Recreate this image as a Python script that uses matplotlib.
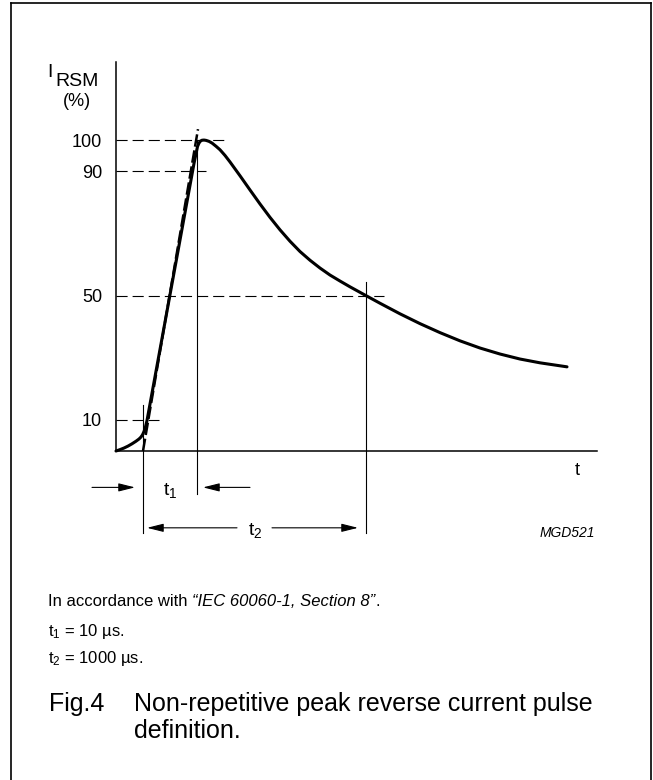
import matplotlib
matplotlib.use("Agg")
import matplotlib.pyplot as plt
from matplotlib.lines import Line2D

plt.rcParams['font.family'] = ['Liberation Sans', 'DejaVu Sans']
plt.rcParams['mathtext.fontset'] = 'custom'
plt.rcParams['mathtext.rm'] = 'Liberation Sans'
plt.rcParams['mathtext.it'] = 'Liberation Sans:italic'

# pulse shape (time in arbitrary units, current in %)
pulse_t = [0, 4, 8, 12, 16, 20, 23, 25, 26.5, 28,
           29.5, 31, 39, 47, 54, 61, 68, 74, 78, 81.5,
           83, 84.5, 86, 88, 90, 93, 96, 100, 104, 109,
           114, 124, 134, 144, 154, 164, 174, 184, 194, 204,
           214, 224, 234, 244, 250, 264, 284, 304, 324, 344,
           364, 384, 404, 424, 451]
pulse_i = [0, 0.45, 0.96, 1.58, 2.32, 3.15, 3.86, 4.50, 5.21, 6.27,
           7.78, 9.81, 23.89, 37.94, 50.26, 62.57, 74.89, 85.43, 92.48, 97.91,
           99.04, 99.68, 99.94, 100.0, 99.90, 99.58, 99.04, 98.01, 96.88, 95.05,
           92.96, 88.52, 83.95, 79.45, 75.14, 71.13, 67.46, 64.15, 61.35, 58.84,
           56.59, 54.66, 52.80, 51.03, 49.97, 47.52, 44.12, 40.96, 38.07, 35.43,
           33.12, 31.19, 29.58, 28.36, 27.07]

# front tangent (virtual origin -> just above the peak)
tangent_t = [27, 82]
tangent_i = [0.0, 103.5]

# dashed reference levels and how far they run
levels = [100, 90, 50, 10]
level_ends = [109, 90, 268, 43]
tick_labels = ['100', '90', '50', '10']

# vertical markers: time, top, bottom
t_origin = 27
t_front = 81
t_half = 250
marks = [(t_origin, 14.8, -26.4), (t_front, 100, -13.8), (t_half, 54.3, -26.4)]

# dimension arrows: (tail, tip) pairs
arrows = [((-24, -11.7), (19, -11.7)),
          ((134, -11.7), (87, -11.7)),
          ((121, -24.7), (31, -24.7)),
          ((156, -24.7), (242, -24.7))]

W, H = 653, 780
fig = plt.figure(figsize=(W / 100, H / 100), dpi=100)

def px(x, y):
    return x / W, 1 - y / H

ax = fig.add_axes([116 / W, 1 - 544.3 / H, 481 / W, (544.3 - 62) / H])
ax.set_xlim(0, 481)
ax.set_ylim(-30, 125.1)
ax.patch.set_alpha(0)

for s in ['top', 'right']:
    ax.spines[s].set_visible(False)
ax.spines['left'].set_bounds(0, 125.1)
ax.spines['bottom'].set_position(('data', 0))
ax.spines['bottom'].set_bounds(0, 481)
for s in ['left', 'bottom']:
    ax.spines[s].set_linewidth(1.1)
ax.set_xticks([])
ax.set_yticks(levels)
ax.set_yticklabels(tick_labels)
ax.tick_params(axis='y', length=0, pad=10, labelsize=13)

# dashed levels
for lv, end in zip(levels, level_ends):
    ln, = ax.plot([0, end], [lv, lv], color='black', lw=0.8, clip_on=False)
    ln.set_dashes([10, 4.5])

# verticals
for tm, top, bot in marks:
    ax.plot([tm, tm], [bot, top], color='black', lw=0.8, clip_on=False)

# the pulse
ax.plot(pulse_t, pulse_i, color='black', lw=2.2, solid_joinstyle='round',
        solid_capstyle='round', clip_on=False)
tl, = ax.plot(tangent_t, tangent_i, color='black', lw=1.8, clip_on=False)
tl.set_dashes([5, 1.5])

aprops = dict(arrowstyle='-|>,head_length=1.0,head_width=0.25', color='black',
              lw=0.8, mutation_scale=10, shrinkA=0, shrinkB=0)
for tail, tip in arrows:
    ax.annotate('', xy=tip, xytext=tail, arrowprops=aprops, annotation_clip=False)

ax.text(47, -14.1, r'$\mathrm{t}_{1}$', fontsize=14, ha='left', va='baseline')
ax.text(132, -27.0, r'$\mathrm{t}_{2}$', fontsize=14, ha='left', va='baseline')
ax.text(459, -7.7, 't', fontsize=13, ha='left', va='baseline')
ax.text(424, -27.7, 'MGD521', fontsize=10, style='italic', ha='left', va='baseline')

# y label
fig.text(*px(47, 77), 'I', fontsize=14, ha='left', va='baseline')
fig.text(*px(55, 86), 'RSM', fontsize=14, ha='left', va='baseline')
fig.text(*px(63, 106), '(%)', fontsize=13, ha='left', va='baseline')

# notes under the chart
t0 = fig.text(*px(48, 609), 'In accordance with ', fontsize=12, ha='left', va='bottom')
t1 = fig.text(0, 0, '\u201cIEC 60060-1, Section 8\u201d', fontsize=12, style='italic')
fig.canvas.draw()
bb = t0.get_window_extent()
t1.set_position((bb.x1 / W, bb.y0 / H))
t1.set_va('bottom')
fig.canvas.draw()
bb1 = t1.get_window_extent()
fig.text(bb1.x1 / W, bb.y0 / H, '.', fontsize=12, va='bottom')

fig.text(*px(48, 636), r'$\mathrm{t}_{1}$ = 10 ' + '\u00b5s.', fontsize=12,
         ha='left', va='baseline')
fig.text(*px(48, 663), r'$\mathrm{t}_{2}$ = 1000 ' + '\u00b5s.', fontsize=12,
         ha='left', va='baseline')
fig.text(*px(49, 711), 'Fig.4', fontsize=18, ha='left', va='baseline')
fig.text(*px(134, 711), 'Non-repetitive peak reverse current pulse', fontsize=18,
         ha='left', va='baseline')
fig.text(*px(134, 738), 'definition.', fontsize=18, ha='left', va='baseline')

# frame
for xs, ys in [((11, 11), (3, 780)), ((11, 651), (3, 3)), ((651, 651), (3, 780))]:
    fig.add_artist(Line2D([x / W for x in xs], [1 - y / H for y in ys],
                          color='black', lw=1.2))

fig.savefig('out.png', dpi=100)
